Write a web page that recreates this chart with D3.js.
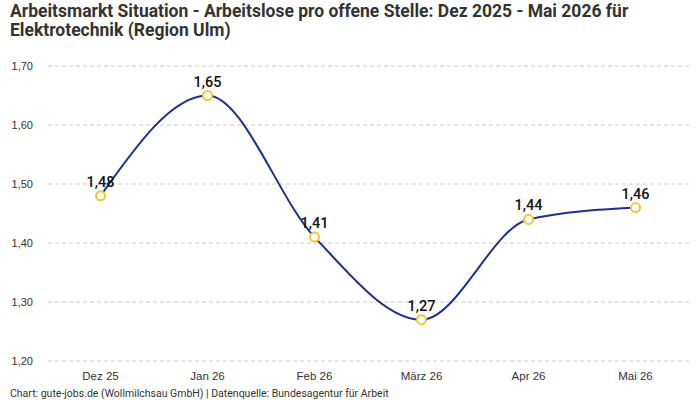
<!DOCTYPE html>
<html>
<head>
<meta charset="utf-8">
<script src="https://cdn.jsdelivr.net/npm/d3@7"></script>
<style>
  body { margin: 0; background: #fff; }
  svg { font-family: "Liberation Sans Narrow", "Roboto", sans-serif; }
  .title { font-size: 17.5px; font-weight: bold; fill: #333; }
  .y-axis .tick text { font-family: "Liberation Sans", sans-serif; font-size: 11px; fill: #333; }
  .x-axis .tick text { font-size: 11.5px; fill: #333; }
  .grid line { stroke: #ccc; stroke-dasharray: 4,3; }
  .val { font-family: "Roboto", sans-serif; font-weight: 500; font-size: 14.5px; fill: #111; text-anchor: middle; }
  .foot { font-size: 10.5px; fill: #333; }
</style>
</head>
<body>
<svg id="chart" width="700" height="400"></svg>
<script>
const months = ['Dez 25', 'Jan 26', 'Feb 26', 'März 26', 'Apr 26', 'Mai 26'];
const values = [1.48, 1.65, 1.41, 1.27, 1.44, 1.46];
const yTicks = [1.2, 1.3, 1.4, 1.5, 1.6, 1.7];

const fmt = v => d3.format('.2f')(v).replace('.', ',');

let svg = d3.select('#chart');

svg.append('text').attr('class', 'title').attr('x', 10).attr('y', 17)
  .text('Arbeitsmarkt Situation - Arbeitslose pro offene Stelle: Dez 2025 - Mai 2026 für');
svg.append('text').attr('class', 'title').attr('x', 10).attr('y', 36)
  .text('Elektrotechnik (Region Ulm)');

let x = d3.scaleBand().domain(months).range([47, 689]);
let y = d3.scaleLinear().domain([1.2, 1.7]).range([361, 66]);

// gridlines
svg.append('g').attr('class', 'grid')
  .selectAll('line').data(yTicks).enter()
  .append('line')
  .attr('x1', 48).attr('x2', 690)
  .attr('y1', d => y(d)).attr('y2', d => y(d));

// y axis labels
let yAxis = svg.append('g')
  .attr('class', 'y-axis')
  .attr('transform', 'translate(33,0)')
  .call(d3.axisLeft(y).tickValues(yTicks).tickFormat(fmt).tickSize(0).tickPadding(0));
yAxis.select('.domain').remove();

// x axis labels
let xAxis = svg.append('g')
  .attr('class', 'x-axis')
  .attr('transform', 'translate(0,369)')
  .call(d3.axisBottom(x).tickSize(0).tickPadding(3));
xAxis.select('.domain').remove();

let data = months.map((m, i) => ({m, v: values[i]}));

let line = d3.line()
  .x(d => x(d.m) + x.bandwidth() / 2)
  .y(d => y(d.v))
  .curve(d3.curveMonotoneX);

svg.append('path').datum(data)
  .attr('d', line)
  .attr('fill', 'none')
  .attr('stroke', '#1d2f8f')
  .attr('stroke-width', 2);

svg.selectAll('.pt').data(data).enter()
  .append('circle')
  .attr('class', 'pt')
  .attr('cx', d => x(d.m) + x.bandwidth() / 2)
  .attr('cy', d => y(d.v))
  .attr('r', 4.5)
  .attr('fill', '#fff')
  .attr('stroke', '#f9c530')
  .attr('stroke-width', 2);

svg.selectAll('.val').data(data).enter()
  .append('text')
  .attr('class', 'val')
  .attr('x', d => x(d.m) + x.bandwidth() / 2)
  .attr('y', d => y(d.v) - 9)
  .text(d => fmt(d.v));

svg.append('text').attr('class', 'foot').attr('x', 10).attr('y', 397)
  .text('Chart: gute-jobs.de (Wollmilchsau GmbH) | Datenquelle: Bundesagentur für Arbeit');
</script>
</body>
</html>
